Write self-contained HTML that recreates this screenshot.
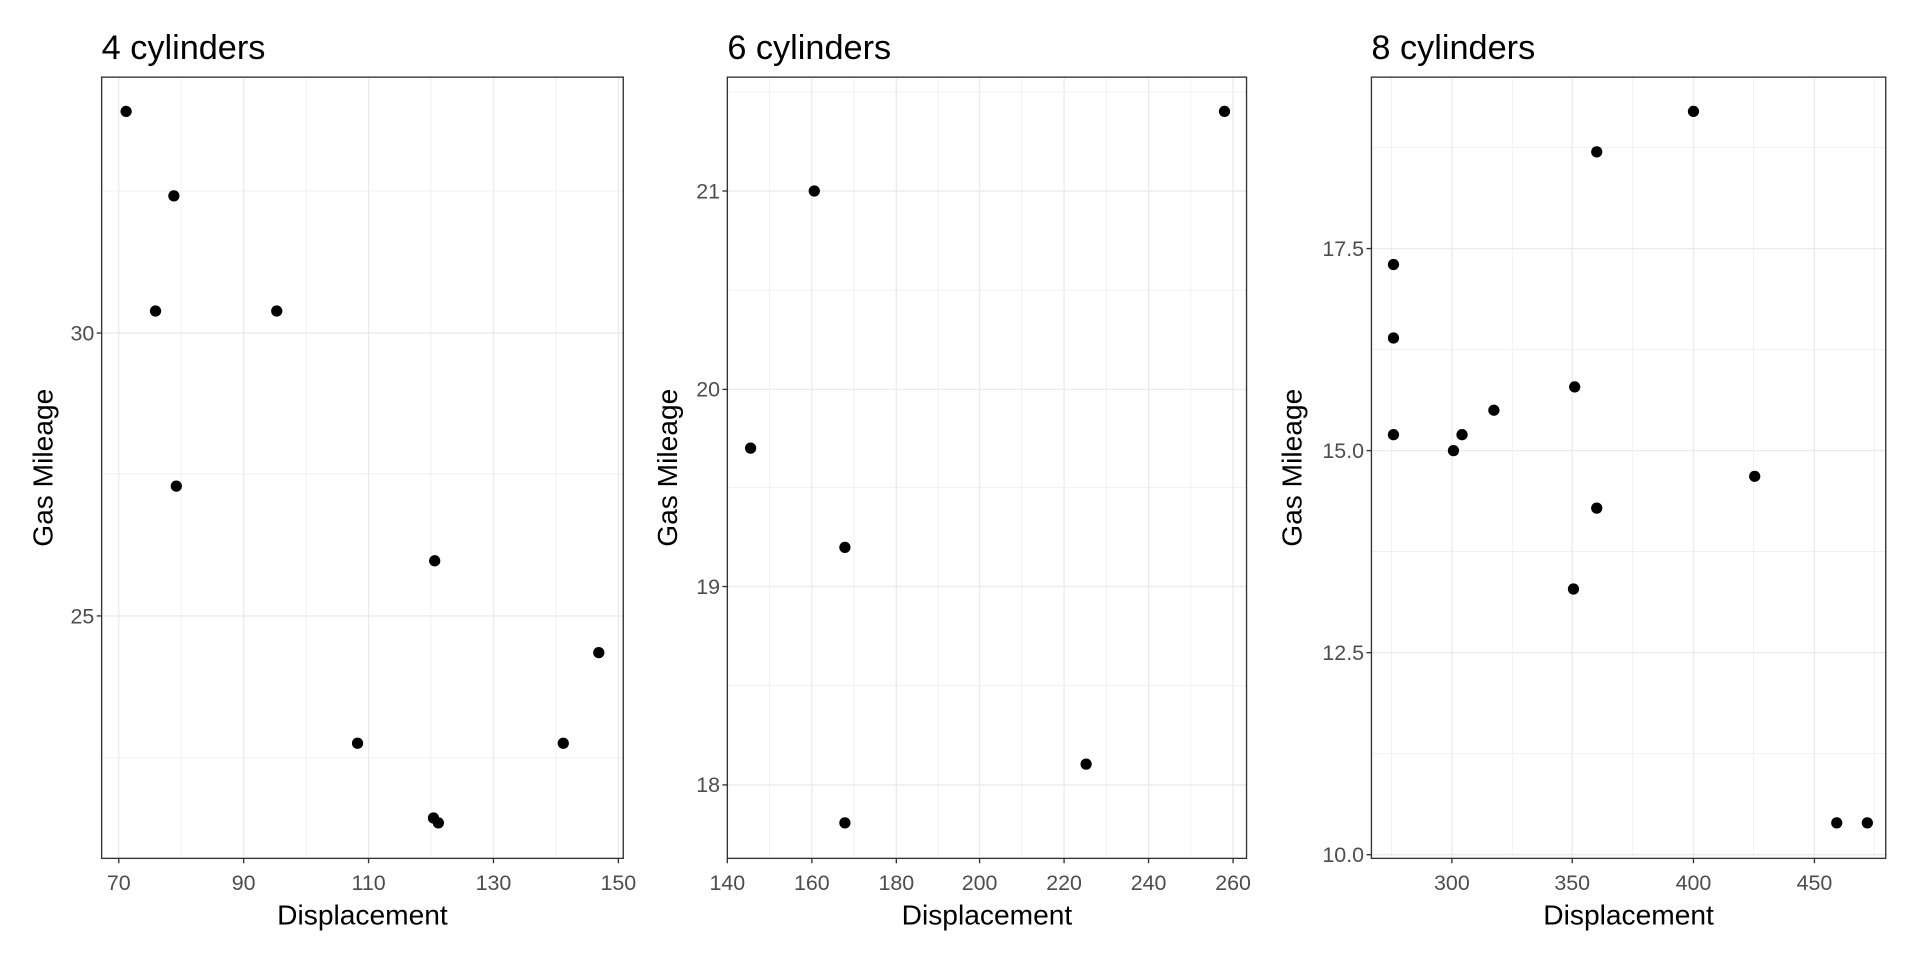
<!DOCTYPE html>
<html><head><meta charset="utf-8"><style>
html,body{margin:0;padding:0;background:#fff;}
svg{display:block;}
text{font-family:"Liberation Sans",Arial,sans-serif;}
.tk{font-size:17.5px;fill:#4d4d4d;}
.at{font-size:23px;fill:#000;}
.tt{font-size:28px;fill:#000;}
.mj{stroke:#ebebeb;stroke-width:1.1;}
.mn{stroke:#ebebeb;stroke-width:0.55;}
.fr{fill:none;stroke:#333;stroke-width:1.1;}
.tm{stroke:#333;stroke-width:1.1;}
</style></head><body>
<svg width="1920" height="960" viewBox="0 0 1568 784" xmlns="http://www.w3.org/2000/svg">
<rect width="1568" height="784" fill="#fff"/>
<!-- Panel 1 -->
<g>
<line class="mn" x1="148" x2="148" y1="63" y2="701"/><line class="mn" x1="250" x2="250" y1="63" y2="701"/><line class="mn" x1="352" x2="352" y1="63" y2="701"/><line class="mn" x1="454" x2="454" y1="63" y2="701"/>
<line class="mn" x1="83" x2="509" y1="156" y2="156"/><line class="mn" x1="83" x2="509" y1="387" y2="387"/><line class="mn" x1="83" x2="509" y1="619" y2="619"/>
<line class="mj" x1="97" x2="97" y1="63" y2="701"/><line class="mj" x1="199" x2="199" y1="63" y2="701"/><line class="mj" x1="301" x2="301" y1="63" y2="701"/><line class="mj" x1="403" x2="403" y1="63" y2="701"/><line class="mj" x1="505" x2="505" y1="63" y2="701"/>
<line class="mj" x1="83" x2="509" y1="272" y2="272"/><line class="mj" x1="83" x2="509" y1="503" y2="503"/>
<g fill="#000"><circle cx="103" cy="91" r="4.6"/><circle cx="142" cy="160" r="4.6"/><circle cx="127" cy="254" r="4.6"/><circle cx="226" cy="254" r="4.6"/><circle cx="144" cy="397" r="4.6"/><circle cx="355" cy="458" r="4.6"/><circle cx="292" cy="607" r="4.6"/><circle cx="460" cy="607" r="4.6"/><circle cx="489" cy="533" r="4.6"/><circle cx="354" cy="668" r="4.6"/><circle cx="358" cy="672" r="4.6"/></g>
<rect class="fr" x="83" y="63" width="426" height="638"/>
<line class="tm" x1="79" x2="83" y1="272" y2="272"/><line class="tm" x1="79" x2="83" y1="503" y2="503"/>
<line class="tm" x1="97" x2="97" y1="701" y2="705"/><line class="tm" x1="199" x2="199" y1="701" y2="705"/><line class="tm" x1="301" x2="301" y1="701" y2="705"/><line class="tm" x1="403" x2="403" y1="701" y2="705"/><line class="tm" x1="505" x2="505" y1="701" y2="705"/>
<text class="tk" x="77" y="278" text-anchor="end">30</text><text class="tk" x="77" y="509" text-anchor="end">25</text>
<text class="tk" x="97" y="727" text-anchor="middle">70</text><text class="tk" x="199" y="727" text-anchor="middle">90</text><text class="tk" x="301" y="727" text-anchor="middle">110</text><text class="tk" x="403" y="727" text-anchor="middle">130</text><text class="tk" x="505" y="727" text-anchor="middle">150</text>
<text class="at" x="296" y="755" text-anchor="middle">Displacement</text>
<text class="at" transform="translate(43,382) rotate(-90)" text-anchor="middle">Gas Mileage</text>
<text class="tt" x="83" y="48">4 cylinders</text>
</g>
<!-- Panel 2 -->
<g>
<line class="mn" x1="628.5" x2="628.5" y1="63" y2="701"/><line class="mn" x1="697.5" x2="697.5" y1="63" y2="701"/><line class="mn" x1="766" x2="766" y1="63" y2="701"/><line class="mn" x1="834.5" x2="834.5" y1="63" y2="701"/><line class="mn" x1="903.5" x2="903.5" y1="63" y2="701"/><line class="mn" x1="972.5" x2="972.5" y1="63" y2="701"/>
<line class="mn" x1="594" x2="1018" y1="75" y2="75"/><line class="mn" x1="594" x2="1018" y1="237" y2="237"/><line class="mn" x1="594" x2="1018" y1="398" y2="398"/><line class="mn" x1="594" x2="1018" y1="560" y2="560"/>
<line class="mj" x1="594" x2="594" y1="63" y2="701"/><line class="mj" x1="663" x2="663" y1="63" y2="701"/><line class="mj" x1="732" x2="732" y1="63" y2="701"/><line class="mj" x1="800" x2="800" y1="63" y2="701"/><line class="mj" x1="869" x2="869" y1="63" y2="701"/><line class="mj" x1="938" x2="938" y1="63" y2="701"/><line class="mj" x1="1007" x2="1007" y1="63" y2="701"/>
<line class="mj" x1="594" x2="1018" y1="156" y2="156"/><line class="mj" x1="594" x2="1018" y1="318" y2="318"/><line class="mj" x1="594" x2="1018" y1="479" y2="479"/><line class="mj" x1="594" x2="1018" y1="641" y2="641"/>
<g fill="#000"><circle cx="613" cy="366" r="4.6"/><circle cx="665" cy="156" r="4.6"/><circle cx="690" cy="447" r="4.6"/><circle cx="690" cy="672" r="4.6"/><circle cx="887" cy="624" r="4.6"/><circle cx="1000" cy="91" r="4.6"/></g>
<rect class="fr" x="594" y="63" width="424" height="638"/>
<line class="tm" x1="590" x2="594" y1="156" y2="156"/><line class="tm" x1="590" x2="594" y1="318" y2="318"/><line class="tm" x1="590" x2="594" y1="479" y2="479"/><line class="tm" x1="590" x2="594" y1="641" y2="641"/>
<line class="tm" x1="594" x2="594" y1="701" y2="705"/><line class="tm" x1="663" x2="663" y1="701" y2="705"/><line class="tm" x1="732" x2="732" y1="701" y2="705"/><line class="tm" x1="800" x2="800" y1="701" y2="705"/><line class="tm" x1="869" x2="869" y1="701" y2="705"/><line class="tm" x1="938" x2="938" y1="701" y2="705"/><line class="tm" x1="1007" x2="1007" y1="701" y2="705"/>
<text class="tk" x="588" y="162" text-anchor="end">21</text><text class="tk" x="588" y="324" text-anchor="end">20</text><text class="tk" x="588" y="485" text-anchor="end">19</text><text class="tk" x="588" y="647" text-anchor="end">18</text>
<text class="tk" x="594" y="727" text-anchor="middle">140</text><text class="tk" x="663" y="727" text-anchor="middle">160</text><text class="tk" x="732" y="727" text-anchor="middle">180</text><text class="tk" x="800" y="727" text-anchor="middle">200</text><text class="tk" x="869" y="727" text-anchor="middle">220</text><text class="tk" x="938" y="727" text-anchor="middle">240</text><text class="tk" x="1007" y="727" text-anchor="middle">260</text>
<text class="at" x="806" y="755" text-anchor="middle">Displacement</text>
<text class="at" transform="translate(553,382) rotate(-90)" text-anchor="middle">Gas Mileage</text>
<text class="tt" x="594" y="48">6 cylinders</text>
</g>
<!-- Panel 3 -->
<g>
<line class="mn" x1="1136.4" x2="1136.4" y1="63" y2="701"/><line class="mn" x1="1235" x2="1235" y1="63" y2="701"/><line class="mn" x1="1333.5" x2="1333.5" y1="63" y2="701"/><line class="mn" x1="1432" x2="1432" y1="63" y2="701"/><line class="mn" x1="1530.6" x2="1530.6" y1="63" y2="701"/>
<line class="mn" x1="1120" x2="1540" y1="120.5" y2="120.5"/><line class="mn" x1="1120" x2="1540" y1="285.5" y2="285.5"/><line class="mn" x1="1120" x2="1540" y1="450.5" y2="450.5"/><line class="mn" x1="1120" x2="1540" y1="615.5" y2="615.5"/>
<line class="mj" x1="1185.7" x2="1185.7" y1="63" y2="701"/><line class="mj" x1="1284" x2="1284" y1="63" y2="701"/><line class="mj" x1="1383" x2="1383" y1="63" y2="701"/><line class="mj" x1="1481.8" x2="1481.8" y1="63" y2="701"/>
<line class="mj" x1="1120" x2="1540" y1="203" y2="203"/><line class="mj" x1="1120" x2="1540" y1="368" y2="368"/><line class="mj" x1="1120" x2="1540" y1="533" y2="533"/><line class="mj" x1="1120" x2="1540" y1="698" y2="698"/>
<g fill="#000"><circle cx="1138" cy="216" r="4.6"/><circle cx="1138" cy="276" r="4.6"/><circle cx="1138" cy="355" r="4.6"/><circle cx="1187" cy="368" r="4.6"/><circle cx="1194" cy="355" r="4.6"/><circle cx="1220" cy="335" r="4.6"/><circle cx="1286" cy="316" r="4.6"/><circle cx="1304" cy="415" r="4.6"/><circle cx="1285" cy="481" r="4.6"/><circle cx="1304" cy="124" r="4.6"/><circle cx="1383" cy="91" r="4.6"/><circle cx="1433" cy="389" r="4.6"/><circle cx="1500" cy="672" r="4.6"/><circle cx="1525" cy="672" r="4.6"/></g>
<rect class="fr" x="1120" y="63" width="420" height="638"/>
<line class="tm" x1="1116" x2="1120" y1="203" y2="203"/><line class="tm" x1="1116" x2="1120" y1="368" y2="368"/><line class="tm" x1="1116" x2="1120" y1="533" y2="533"/><line class="tm" x1="1116" x2="1120" y1="698" y2="698"/>
<line class="tm" x1="1185.7" x2="1185.7" y1="701" y2="705"/><line class="tm" x1="1284" x2="1284" y1="701" y2="705"/><line class="tm" x1="1383" x2="1383" y1="701" y2="705"/><line class="tm" x1="1481.8" x2="1481.8" y1="701" y2="705"/>
<text class="tk" x="1114" y="209" text-anchor="end">17.5</text><text class="tk" x="1114" y="374" text-anchor="end">15.0</text><text class="tk" x="1114" y="539" text-anchor="end">12.5</text><text class="tk" x="1114" y="704" text-anchor="end">10.0</text>
<text class="tk" x="1185.7" y="727" text-anchor="middle">300</text><text class="tk" x="1284" y="727" text-anchor="middle">350</text><text class="tk" x="1383" y="727" text-anchor="middle">400</text><text class="tk" x="1481.8" y="727" text-anchor="middle">450</text>
<text class="at" x="1330" y="755" text-anchor="middle">Displacement</text>
<text class="at" transform="translate(1063,382) rotate(-90)" text-anchor="middle">Gas Mileage</text>
<text class="tt" x="1120" y="48">8 cylinders</text>
</g>
</svg>
</body></html>
